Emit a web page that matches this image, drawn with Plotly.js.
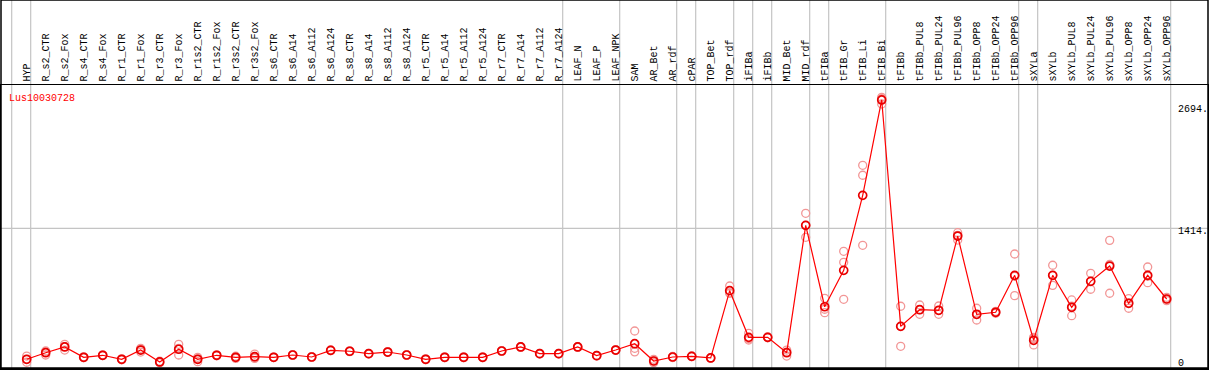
<!DOCTYPE html>
<html>
<head>
<meta charset="utf-8">
<script src="https://cdn.plot.ly/plotly-3.0.1.min.js"></script>
<style>html,body{margin:0;padding:0;background:#fff;}#chart{width:1209px;height:370px;}</style>
</head>
<body>
<div id="chart"></div>
<script>
var categories = ["HYP","R_s2_CTR","R_s2_Fox","R_s4_CTR","R_s4_Fox","R_r1_CTR","R_r1_Fox","R_r3_CTR","R_r3_Fox","R_r1s2_CTR","R_r1s2_Fox","R_r3s2_CTR","R_r3s2_Fox","R_s6_CTR","R_s6_A14","R_s6_A112","R_s6_A124","R_s8_CTR","R_s8_A14","R_s8_A112","R_s8_A124","R_r5_CTR","R_r5_A14","R_r5_A112","R_r5_A124","R_r7_CTR","R_r7_A14","R_r7_A112","R_r7_A124","LEAF_N","LEAF_P","LEAF_NPK","SAM","AR_Bet","AR_rdf","cPAR","TOP_Bet","TOP_rdf","iFIBa","iFIBb","MID_Bet","MID_rdf","tFIBa","tFIB_Gr","tFIB_Li","tFIB_Bi","tFIBb","tFIBb_PUL8","tFIBb_PUL24","tFIBb_PUL96","tFIBb_OPP8","tFIBb_OPP24","tFIBb_OPP96","sXYLa","sXYLb","sXYLb_PUL8","sXYLb_PUL24","sXYLb_PUL96","sXYLb_OPP8","sXYLb_OPP24","sXYLb_OPP96"];

var meanValues = [43,112,172,64,85,43,140,15,148,43,85,64,70,64,88,67,137,127,102,119,88,43,64,64,64,130,172,102,102,172,81,140,206,25,67,74,57,761,273,273,112,1445,593,974,1759,2757,388,562,556,1333,514,535,922,242,922,587,859,1019,629,922,674];

var replicates = [[77,43,12],[130,118,88],[200,176,140],[68,64,60],[88,85,82],[48,43,38],[158,143,119],[23,15,7],[200,156,88],[64,47,18],[90,85,80],[75,64,53],[98,59,53],[66,64,62],[92,88,84],[71,67,63],[141,137,133],[131,127,123],[106,102,98],[123,119,115],[92,88,84],[47,43,39],[68,64,60],[68,64,60],[68,64,60],[134,130,126],[176,172,168],[106,102,98],[106,102,98],[176,172,168],[85,81,77],[144,140,136],[339,158,121],[43,25,7],[72,67,62],[78,74,70],[60,57,54],[810,739,734],[315,259,245],[278,273,268],[140,119,77],[1571,1444,1320],[681,567,531],[1173,1058,671],[2073,1969,1236],[2785,2771,2715],[598,388,179],[611,562,514],[601,556,514],[1368,1340,1291],[577,511,454],[545,535,525],[1145,912,709],[273,260,193],[1027,922,817],[664,598,499],[943,858,776],[1288,1035,734],[677,633,577],[1009,912,845],[692,674,656]];

var yTickValues = [0, 1414, 2694];
var yTickLabels = ["0", "1414.", "2694."];
var groupEnds = [-1, 0, 28, 31, 34, 35, 37, 38, 39, 41, 42, 45, 52, 53, 60];
var geneName = "Lus10030728";

var idx = categories.map(function(_, i){ return i; });
var repX = [], repY = [];
replicates.forEach(function(r, i){ r.forEach(function(v){ repX.push(i); repY.push(v); }); });

var monoFont = 'Liberation Mono, DejaVu Sans Mono, monospace';

var traces = [
  {x: repX, y: repY, type: 'scatter', mode: 'markers', hoverinfo: 'skip',
   marker: {symbol: 'circle-open', size: 8, color: '#f29696', line: {width: 1.3, color: '#f29696'}}, showlegend: false},
  {x: idx, y: meanValues, type: 'scatter', mode: 'lines+markers',
   line: {color: '#ff0000', width: 1.2},
   marker: {symbol: 'circle-open', size: 8, color: '#e80000', line: {width: 1.7, color: '#e80000'}}, showlegend: false}
];

var shapes = [];
var topPaper = 1 + 85/283;
groupEnds.forEach(function(g){
  shapes.push({type: 'line', xref: 'x', yref: 'paper', x0: g + 0.21, x1: g + 0.21, y0: 0, y1: topPaper,
    line: {color: '#c4c4c4', width: 1.2}, layer: 'below'});
});
shapes.push({type: 'line', xref: 'paper', yref: 'y', x0: 0, x1: 1, y0: yTickValues[1], y1: yTickValues[1],
  line: {color: '#c4c4c4', width: 1.2}, layer: 'below'});
shapes.push({type: 'rect', xref: 'paper', yref: 'paper', x0: 0, x1: 1, y0: 0, y1: topPaper,
  line: {color: '#000', width: 1.5}, fillcolor: 'rgba(0,0,0,0)'});

var annotations = yTickValues.map(function(v, i){
  return {xref: 'paper', yref: 'y', x: (1177 - 1) / 1207, y: v, xanchor: 'left', yanchor: 'top',
    yshift: i === 0 ? 6 : 3, text: yTickLabels[i], showarrow: false, borderpad: 0,
    font: {family: monoFont, size: 10, color: '#000'}};
});

var layout = {
  width: 1209, height: 370,
  margin: {l: 1, r: 1, t: 85, b: 2, pad: 0},
  paper_bgcolor: '#fff', plot_bgcolor: '#fff',
  title: {text: geneName, x: 9/1209, xref: 'container', xanchor: 'left', y: 1 - 97/370, yref: 'container', yanchor: 'middle',
    font: {family: monoFont, size: 10, color: '#ff0000'}},
  xaxis: {range: [-1.3526, 62.174], side: 'top', tickmode: 'array', tickvals: idx, ticktext: categories,
    tickangle: -90, ticks: '', showgrid: false, zeroline: false, showline: true, linecolor: '#000', linewidth: 1.5,
    mirror: true, tickfont: {family: monoFont, size: 10, color: '#000'}, fixedrange: true},
  yaxis: {range: [-48.1, 2913.7], showticklabels: false, ticks: '', showgrid: false, zeroline: false,
    showline: true, mirror: true, linecolor: '#000', linewidth: 1.5, fixedrange: true},
  shapes: shapes,
  annotations: annotations,
  showlegend: false
};

Plotly.newPlot('chart', traces, layout, {staticPlot: true, displayModeBar: false});
</script>
</body>
</html>
